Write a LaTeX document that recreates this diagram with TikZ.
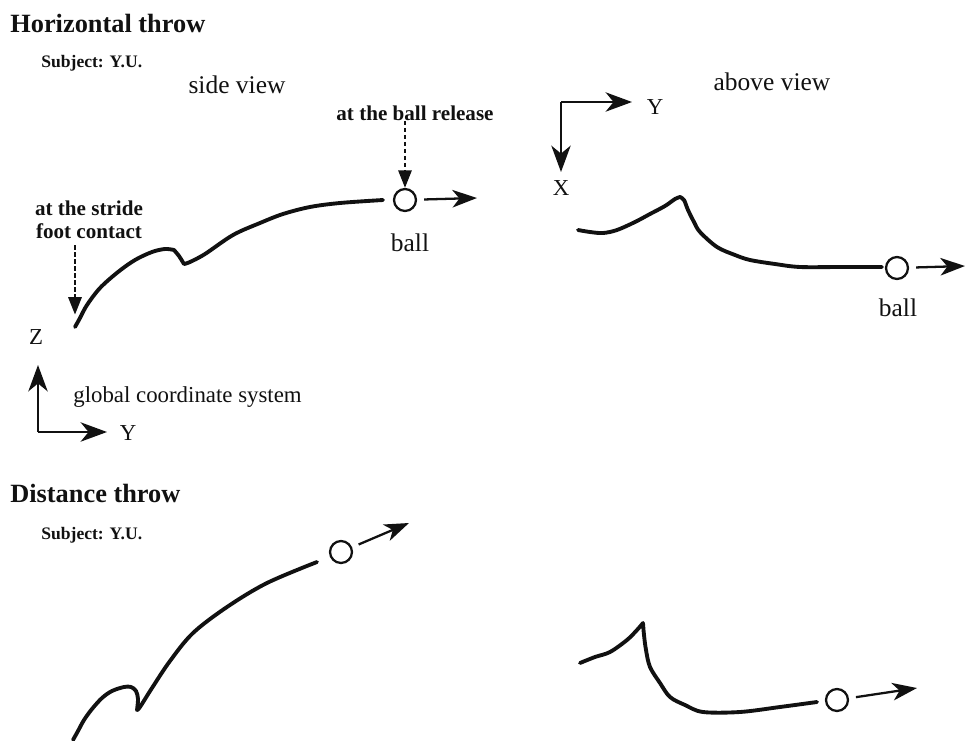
\documentclass[tikz,border=0pt]{standalone}
\usepackage{fontspec}
\setmainfont{Liberation Serif}
\usetikzlibrary{positioning, calc, arrows.meta}
\definecolor{Ink}{HTML}{111111}
\tikzset{
    titletext/.style={anchor=west, inner sep=0pt, text=Ink, font=\bfseries\fontsize{15}{18}\selectfont},
    subjtext/.style={anchor=west, inner sep=0pt, text=Ink, font=\bfseries\fontsize{10}{12}\selectfont},
    viewtext/.style={inner sep=0pt, text=Ink, font=\fontsize{14.5}{17}\selectfont},
    notetext/.style={inner sep=0pt, text=Ink, align=center, font=\bfseries\fontsize{12}{14}\selectfont},
    axistext/.style={inner sep=0pt, text=Ink, font=\fontsize{13}{15}\selectfont},
    trace/.style={draw=Ink, line width=2.2pt, line join=round, line cap=round},
    ballnode/.style={circle, draw=Ink, line width=1.3pt, minimum size=12.5pt, inner sep=0pt},
    motionarrow/.style={-{Stealth[length=14pt, width=10pt, inset=4pt]}, line width=1.3pt, draw=Ink, shorten <=4pt},
    axisarrow/.style={-{Stealth[length=15pt, width=11pt, inset=4.5pt]}, line width=1.3pt, draw=Ink},
    markarrow/.style={-{Triangle[length=10pt, width=7.5pt]}, line width=1.5pt, draw=Ink, dash pattern=on 2.5pt off 1.5pt},
}

\begin{document}
\begin{tikzpicture}[x=0.02cm, y=-0.02cm]
    \useasboundingbox (0,0) rectangle (965,741);

    % Horizontal throw
    \node[titletext] (htitle) at (10,23) {Horizontal throw};
    \node[subjtext] (hsubj) at (41,63) {Subject: Y.U.};
    \node[viewtext] (hsideview) at (237,85) {side view};
    \node[viewtext] (haboveview) at (772,82) {above view};

    % side view trace
    \coordinate (hsstart) at (75,327);
    \draw[trace] plot[smooth, tension=0.55] coordinates {(75,327) (80,318) (87,305) (100,288) (118,272) (135,260) (152,252) (165,249) (174,250)}
        -- plot[smooth, tension=0.5] coordinates {(174,250) (179,256) (184,264)}
        -- plot[smooth, tension=0.55] coordinates {(184,264) (190,262) (205,254) (233,235) (260,223) (283,214) (310,207) (340,203) (383,200)};
    \node[ballnode] (hsball) at (405,200) {};
    \coordinate (hsdir) at (477,198);
    \draw[motionarrow] (hsball) -- (hsdir);
    \node[viewtext] (hsballlabel) at (410,243) {ball};

    % markers
    \node[notetext] (release) at (415,113) {at the ball release};
    \draw[markarrow] (release.south -| hsball.north) -- (hsball.north);
    \node[notetext] (stride) at (89,220) {at the stride\\[-1pt]foot contact};
    \draw[markarrow, shorten >=7pt] (stride.south -| hsstart) ++(0,6) -- (hsstart);

    % global coordinate system
    \coordinate (gorigin) at (38,432);
    \coordinate (gz) at (38,365);
    \coordinate (gy) at (107,432);
    \draw[axisarrow] (gorigin) -- (gz);
    \draw[axisarrow] (gorigin) -- (gy);
    \node[axistext] (gzlabel) at (36,337) {Z};
    \node[axistext] (gylabel) at (128,433) {Y};
    \node[viewtext, anchor=west, font=\fontsize{13}{15}\selectfont] (gcs) at (73,397) {global coordinate system};

    % above view axes
    \coordinate (aorigin) at (561,102);
    \coordinate (ay) at (632,102);
    \coordinate (ax) at (561,172);
    \draw[axisarrow] (aorigin) -- (ay);
    \draw[axisarrow] (aorigin) -- (ax);
    \node[axistext] (aylabel) at (655,107) {Y};
    \node[axistext] (axlabel) at (561,188) {X};

    % above view trace
    \draw[trace] plot[smooth, tension=0.55] coordinates {(578,230) (590,232) (603,233) (617,230) (635,222) (650,214) (665,206) (675,199) (680,197)}
        -- plot[smooth, tension=0.55] coordinates {(680,197) (684,200) (688,210) (694,222) (700,232) (717,247) (735,255) (750,260) (775,264) (800,267) (840,267) (882,267)};
    \node[ballnode] (haball) at (897,268) {};
    \coordinate (hadir) at (965,266);
    \draw[motionarrow] (haball) -- (hadir);
    \node[viewtext] (haballlabel) at (898,308) {ball};

    % Distance throw
    \node[titletext] (dtitle) at (10,493) {Distance throw};
    \node[subjtext] (dsubj) at (41,535) {Subject: Y.U.};

    % side view trace
    \draw[trace] plot[smooth, tension=0.55] coordinates {(73,740) (78,731) (84,720) (92,709) (102,698) (112,691) (124,687) (131,687) (136,691) (138,699) (137,710)}
        -- plot[smooth, tension=0.55] coordinates {(137,710) (140,707) (152,688) (170,661) (193,633) (227,607) (267,583) (317,562)};
    \node[ballnode] (dsball) at (341,552) {};
    \coordinate (dsdir) at (409,523);
    \draw[motionarrow] (dsball) -- (dsdir);

    % above view trace
    \draw[trace] plot[smooth, tension=0.55] coordinates {(580,663) (595,657) (610,652) (627,640) (637,630) (643,623)}
        -- plot[smooth, tension=0.55] coordinates {(643,623) (644,635) (646,650) (650,667) (660,683) (670,697) (685,705) (703,712) (740,712) (780,707) (817,702)};
    \node[ballnode] (daball) at (837,700) {};
    \coordinate (dadir) at (917,688);
    \draw[motionarrow] (daball) -- (dadir);
\end{tikzpicture}
\end{document}
